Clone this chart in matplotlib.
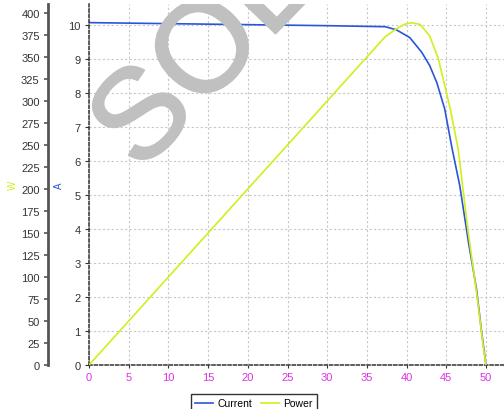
import matplotlib
matplotlib.use("Agg")
import matplotlib.pyplot as plt
import matplotlib.patheffects as pe
import numpy as np

# dados (curva I-V e P-V)
volt_i = [0, 10, 20, 30, 37.3, 38.7, 40.4, 41.9, 42.9, 43.8, 44.8, 45.7, 46.7, 47.8, 48.8, 49.4, 50.0]
corrente = [10.07, 10.04, 10.01, 9.98, 9.95, 9.86, 9.63, 9.2, 8.81, 8.31, 7.53, 6.4, 5.27, 3.6, 2.24, 1.06, 0.0]

volt_p = [0, 10, 20, 30, 37.3, 38.7, 39.7, 40.6, 41.7, 42.9, 44.0, 45.5, 46.5, 47.7, 48.8, 49.7, 50.0]
potencia = [0, 100, 200, 300, 373, 382, 387, 389, 387, 374, 348, 291, 245, 155, 83, 18, 0]

x_ticks = list(range(0, 51, 5))
a_ticks = list(range(0, 11))
w_ticks = list(range(0, 401, 25))

plt.rcParams['font.family'] = ['Liberation Sans', 'DejaVu Sans']

cor_i = '#2a55d8'
cor_p = '#d2ee1c'
cinza = '#333333'

fig = plt.figure(figsize=(5.04, 4.10), dpi=100)
ax = fig.add_axes([89/504, 44/410, 415/504, 361/410])
ax2 = ax.twinx()

l1, = ax.plot(volt_i, corrente, color=cor_i, lw=1.2, label='Current')
l2, = ax2.plot(volt_p, potencia, color=cor_p, lw=1.2, label='Power')

ax.set_xlim(0, 415/7.94)
ax.set_ylim(0, 361/34)
ax2.set_ylim(0, 361/0.88)

ax.set_xticks(x_ticks)
ax.set_yticks(a_ticks)
ax2.set_yticks(w_ticks)

ax.grid(True, color='#c8c8c8', linestyle=(0, (2, 2)), lw=0.8)
ax.set_axisbelow(True)

for s in ['top', 'right']:
    ax.spines[s].set_visible(False)
for s in ['left', 'bottom']:
    ax.spines[s].set_linestyle((0, (2, 1.5)))
    ax.spines[s].set_color(cinza)
    ax.spines[s].set_linewidth(1.1)

for s in ['top', 'right', 'bottom']:
    ax2.spines[s].set_visible(False)
ax2.spines['left'].set_visible(True)
ax2.spines['left'].set_position(('axes', (48 - 89) / 415))
ax2.spines['left'].set_color('#555555')
ax2.spines['left'].set_linewidth(2)
ax2.yaxis.set_ticks_position('left')
ax2.yaxis.set_label_position('left')

ax.tick_params(axis='x', colors=cinza, labelcolor='#e030e0', labelsize=8, length=2, pad=3)
ax.tick_params(axis='y', colors=cinza, labelcolor=cinza, labelsize=8, length=3, pad=3)
ax2.tick_params(axis='y', colors='#555555', labelcolor=cinza, labelsize=8, length=3, width=1.2, pad=3)

ax.set_ylabel('A', color=cor_i, fontsize=7, labelpad=3)
ax2.set_ylabel('W', color=cor_p, fontsize=7, labelpad=2.5)

# marca d'agua
ax2.text(0.2795, 0.8476, 'SOL', transform=ax2.transAxes, rotation=46,
         rotation_mode='anchor', ha='center', va='center', fontsize=92,
         color='#c0c0c0', zorder=10, clip_on=True,
         path_effects=[pe.withStroke(linewidth=1.5, foreground='#c0c0c0')])

leg = fig.legend(handles=[l1, l2], loc='upper center', bbox_to_anchor=(0.504, 0.049),
                 ncol=2, fontsize=7.5, frameon=True, fancybox=False, handlelength=1.7,
                 columnspacing=0.9, handletextpad=0.4, borderpad=0.4)
leg.get_frame().set_edgecolor('black')
leg.get_frame().set_linewidth(1)

fig.savefig('out.png', dpi=100)
